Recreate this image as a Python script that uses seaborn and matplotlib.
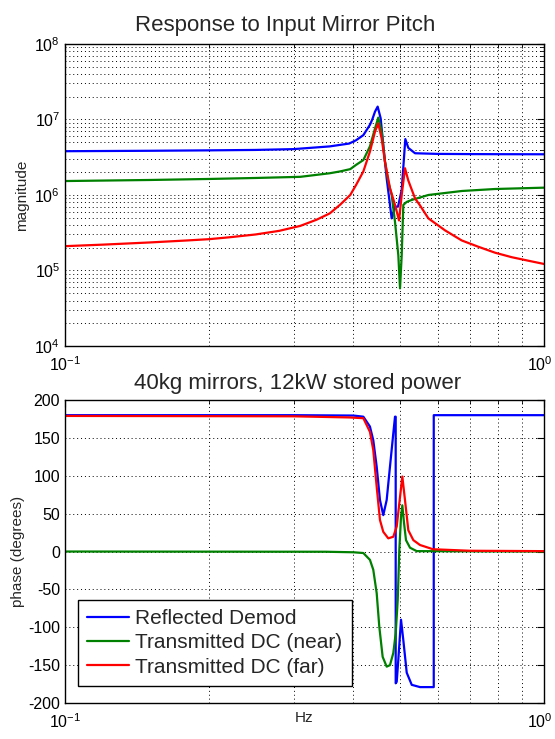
import numpy as np
import pandas as pd
import matplotlib
matplotlib.use("Agg")
import matplotlib.pyplot as plt
import matplotlib.ticker as mticker
import seaborn as sns

# ---------------- data ----------------
series_names = ["Reflected Demod", "Transmitted DC (near)", "Transmitted DC (far)"]
series_colors = ["#0000FF", "#008000", "#FF0000"]

# magnitude panel
f_refl_mag = [0.100, 0.150, 0.200, 0.250, 0.300, 0.357, 0.392, 0.405, 0.4196, 0.4331, 0.4380,
              0.4438, 0.4495, 0.4560, 0.4618, 0.4694, 0.4769, 0.4808, 0.4886, 0.4957,
              0.5046, 0.5134, 0.5209, 0.5380, 0.600, 0.700, 0.800, 1.000]
refl_mag = [3.8e6, 3.85e6, 3.9e6, 3.95e6, 4.05e6, 4.4e6, 4.8e6, 5.3e6, 6.2e6, 8.5e6, 1.0e7,
            1.27e7, 1.48e7, 1.04e7, 4.6e6, 1.66e6, 7.4e5, 4.9e5, 7.0e5, 7.0e5,
            1.17e6, 5.5e6, 4.2e6, 3.57e6, 3.5e6, 3.48e6, 3.47e6, 3.46e6]

f_near_mag = [0.100, 0.150, 0.200, 0.250, 0.310, 0.357, 0.375, 0.394, 0.405, 0.4196, 0.4331,
              0.4438, 0.4508, 0.4582, 0.4656, 0.4730, 0.4808, 0.4886, 0.4964, 0.5005,
              0.5046, 0.5085, 0.5169, 0.5295, 0.5736, 0.6742, 0.7904, 1.000]
near_mag = [1.53e6, 1.58e6, 1.63e6, 1.68e6, 1.74e6, 1.94e6, 2.05e6, 2.2e6, 2.5e6, 2.9e6, 4.4e6,
            7.6e6, 1.06e7, 6.9e6, 2.76e6, 1.5e6, 1.0e6, 4.4e5, 1.6e5, 5.8e4,
            1.6e5, 7.4e5, 8.1e5, 8.6e5, 1.0e6, 1.13e6, 1.2e6, 1.25e6]

f_far_mag = [0.100, 0.120, 0.150, 0.180, 0.200, 0.220, 0.250, 0.280, 0.310, 0.335, 0.357,
             0.375, 0.394, 0.405, 0.4196, 0.4331, 0.4438, 0.4508, 0.4582, 0.4656, 0.4769,
             0.4886, 0.4981, 0.5046, 0.5126, 0.5209, 0.5380, 0.5500, 0.5736, 0.6214,
             0.6733, 0.7281, 0.7904, 0.8562, 0.9261, 1.000]
far_mag = [2.1e5, 2.2e5, 2.35e5, 2.5e5, 2.6e5, 2.75e5, 3.0e5, 3.35e5, 3.9e5, 4.7e5, 5.7e5,
           7.4e5, 1.0e6, 1.35e6, 2.05e6, 3.75e6, 6.9e6, 8.9e6, 5.6e6, 2.76e6, 1.23e6,
           7.4e5, 4.6e5, 1.0e6, 2.26e6, 1.55e6, 9.0e5, 7.4e5, 4.9e5, 3.4e5,
           2.5e5, 2.07e5, 1.72e5, 1.5e5, 1.35e5, 1.22e5]

# phase panel
f_refl_ph = [0.100, 0.300, 0.400, 0.4196, 0.4331, 0.4401, 0.4474, 0.4545, 0.4618,
             0.4694, 0.4769, 0.4846, 0.4886, 0.4902, 0.4902, 0.4926, 0.4964, 0.5029,
             0.5085, 0.5169, 0.5295, 0.5510, 0.5886, 0.5886, 1.000]
refl_ph = [180, 180, 179.5, 178, 165, 147, 112, 68, 48,
           68, 112, 156, 178, 178, -174, -172, -143, -90,
           -117, -160, -176, -179, -179, 180, 180]

f_near_ph = [0.100, 0.350, 0.400, 0.4196, 0.4331, 0.4401, 0.4474, 0.4530, 0.4604,
             0.4694, 0.4769, 0.4846, 0.4902, 0.4950, 0.4988, 0.5029, 0.5061, 0.5102,
             0.5151, 0.5252, 0.5424, 1.000]
near_ph = [0, -0.3, -1, -2, -11, -24, -55, -99, -139,
           -152, -150, -134, -108, -64, 2, 46, 61, 38,
           15, 5, 0.5, 0]

f_far_ph = [0.100, 0.300, 0.392, 0.4196, 0.4331, 0.4401, 0.4474, 0.4545, 0.4618,
            0.4730, 0.4846, 0.4926, 0.5005, 0.5061, 0.5126, 0.5209, 0.5336, 0.5510,
            0.5867, 0.700, 1.000]
far_ph = [179, 178.5, 177, 176, 158, 134, 85.5, 41.6, 26,
          17.4, 19.5, 33, 72, 99, 68, 28, 15, 8.6,
          3, 1, 0.5]

titles = ["Response to Input Mirror Pitch", "40kg mirrors, 12kW stored power"]
ylabels = ["magnitude", "phase (degrees)"]
xlabel = "Hz"
phase_ticks = [-200, -150, -100, -50, 0, 50, 100, 150, 200]

# ---------------- style ----------------
sns.set_style("white")
plt.rcParams["font.family"] = ["Liberation Sans", "DejaVu Sans"]
plt.rcParams["mathtext.fontset"] = "custom"
plt.rcParams["mathtext.rm"] = "Liberation Sans"
plt.rcParams["mathtext.it"] = "Liberation Sans"
plt.rcParams["axes.unicode_minus"] = False

fig = plt.figure(figsize=(5.55, 7.39), dpi=100)
ax1 = fig.add_axes([0.1171, 0.5318, 0.8631, 0.4087])
ax2 = fig.add_axes([0.1171, 0.0487, 0.8631, 0.4100])

mag_sets = [(f_refl_mag, refl_mag), (f_near_mag, near_mag), (f_far_mag, far_mag)]
ph_sets = [(f_refl_ph, refl_ph), (f_near_ph, near_ph), (f_far_ph, far_ph)]

for (fx, vy), name, col in zip(mag_sets, series_names, series_colors):
    df = pd.DataFrame({"f": fx, "v": vy})
    sns.lineplot(data=df, x="f", y="v", ax=ax1, color=col, lw=1.6,
                 sort=False, estimator=None, legend=False)

for (fx, vy), name, col in zip(ph_sets, series_names, series_colors):
    df = pd.DataFrame({"f": fx, "v": vy})
    sns.lineplot(data=df, x="f", y="v", ax=ax2, color=col, lw=1.6,
                 sort=False, estimator=None, label=name)

grid_kw = dict(color="black", linestyle=(0, (1, 3.0)), linewidth=0.7)

for ax in (ax1, ax2):
    ax.set_xscale("log")
    ax.set_xlim(0.1, 1.0)
    ax.xaxis.set_major_locator(mticker.FixedLocator([0.1, 1.0]))
    ax.xaxis.set_minor_locator(mticker.LogLocator(base=10, subs=np.arange(2, 10)))
    ax.xaxis.set_minor_formatter(mticker.NullFormatter())
    ax.grid(True, which="major", axis="both", **grid_kw)
    ax.grid(True, which="minor", axis="x", **grid_kw)
    ax.tick_params(which="both", direction="in", top=True, right=True,
                   labelsize=11.5, colors="black")
    ax.tick_params(which="major", length=5, width=0.8)
    ax.tick_params(which="minor", length=3, width=0.6)
    ax.tick_params(axis="x", which="major", pad=7)
    for sp in ax.spines.values():
        sp.set_color("black")
        sp.set_linewidth(1.0)
    ax.set_axisbelow(True)
    # keep the right-hand 10^0 label inside the figure
    lbls = ax.get_xticklabels()

ax1.set_yscale("log")
ax1.set_ylim(1e4, 1e8)
ax1.yaxis.set_major_locator(mticker.LogLocator(base=10, numticks=10))
ax1.yaxis.set_minor_locator(mticker.LogLocator(base=10, subs=np.arange(2, 10), numticks=20))
ax1.yaxis.set_minor_formatter(mticker.NullFormatter())
ax1.grid(True, which="minor", axis="y", **grid_kw)
ax1.set_xlabel("")
ax1.set_ylabel(ylabels[0], fontsize=11)
ax1.set_title(titles[0], fontsize=16, pad=9, x=0.46)

ax2.set_ylim(-200, 200)
ax2.set_yticks(phase_ticks)
ax2.set_xlabel(xlabel, fontsize=11)
ax2.xaxis.set_label_coords(0.5, -0.025)
ax2.set_ylabel(ylabels[1], fontsize=11, labelpad=2)
ax2.set_title(titles[1], fontsize=16, pad=8, x=0.485)

leg = ax2.legend(loc="lower left", bbox_to_anchor=(0.027, 0.056), borderaxespad=0,
                 fontsize=15, frameon=True, fancybox=False, framealpha=1,
                 edgecolor="black", handlelength=2.0, handletextpad=0.3,
                 labelspacing=0.25, borderpad=0.45)
leg.get_frame().set_linewidth(1.0)
for line in leg.get_lines():
    line.set_linewidth(1.6)

fig.canvas.draw()
for ax in (ax1, ax2):
    for t in ax.get_xticklabels():
        if t.get_text() and abs(t.get_position()[0] - 1.0) < 1e-9:
            t.set_horizontalalignment("center")
            import matplotlib.transforms as mtrans
            t.set_transform(t.get_transform() + mtrans.ScaledTranslation(-4 / 100, 0, fig.dpi_scale_trans))

fig.savefig("out.png", dpi=100, facecolor="white")
